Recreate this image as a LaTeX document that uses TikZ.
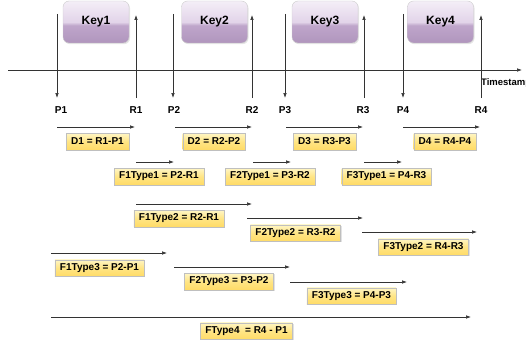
\documentclass[tikz,border=0pt]{standalone}
\usepackage{fontspec}
\setmainfont{Liberation Sans}
\usetikzlibrary{arrows.meta,shadows}
\definecolor{linec}{HTML}{333333}
\definecolor{kt}{HTML}{F4EEF7}
\definecolor{ku}{HTML}{E2D4E9}
\definecolor{km}{HTML}{BFA6CB}
\definecolor{kb}{HTML}{9E80AC}
\definecolor{yt}{HTML}{FFF6C4}
\definecolor{ym}{HTML}{FFE585}
\definecolor{yb}{HTML}{FFD148}
\pgfdeclareverticalshading{keyshade}{100bp}{color(0bp)=(kb); color(46bp)=(km); color(50bp)=(ku); color(75bp)=(kt); color(100bp)=(kt)}
\pgfdeclareverticalshading{yshade}{100bp}{color(0bp)=(yb); color(50bp)=(ym); color(75bp)=(yt); color(100bp)=(yt)}
\begin{document}
\begin{tikzpicture}[x=1pt,y=-1pt,
  arr/.style={draw=linec,line width=0.7pt,-{Latex[length=5pt,width=3.6pt]}},
  keybox/.style={rounded corners=6pt,draw=gray!40,shading=keyshade,
    minimum width=66pt,minimum height=42pt,
    font=\bfseries\fontsize{12}{14}\selectfont,
    drop shadow={shadow xshift=1pt,shadow yshift=-1.2pt,fill=gray!40}},
  fbox/.style={draw=gray!50,shading=yshade,
    minimum height=16.5pt,inner xsep=5pt,inner ysep=0pt,
    font=\bfseries\fontsize{10}{12}\selectfont,
    drop shadow={shadow xshift=1pt,shadow yshift=-1.2pt,fill=gray!45}},
  lab/.style={font=\bfseries\fontsize{10}{12}\selectfont,inner sep=0pt}]
\useasboundingbox (0,0) rectangle (526,345);

% keys
\node[keybox] (k1) at (96,22) {Key1};
\node[keybox] (k2) at (214.5,22) {Key2};
\node[keybox] (k3) at (325,22) {Key3};
\node[keybox] (k4) at (440.5,22) {Key4};

% axis
\coordinate (ax0) at (8,70);
\coordinate (ax1) at (522,70);
\draw[arr] (ax0) -- (ax1);
\node[lab,anchor=west,font=\bfseries\fontsize{9.5}{11}\selectfont] (ts) at (481,83) {Timestamp};

% vertical arrows
\foreach \n/\x in {p1/57,p2/173,p3/285,p4/403}{
  \coordinate (\n t) at (\x,14);
  \coordinate (\n b) at (\x,98);
  \draw[arr] (\n t) -- (\n b);
}
\foreach \n/\x in {r1/136,r2/252,r3/364,r4/481}{
  \coordinate (\n b) at (\x,98);
  \coordinate (\n t) at (\x,15);
  \draw[arr] (\n b) -- (\n t);
}

% labels
\node[lab] (lp1) at (61,110) {P1};
\node[lab] (lr1) at (136,110) {R1};
\node[lab] (lp2) at (174,110) {P2};
\node[lab] (lr2) at (252,110) {R2};
\node[lab] (lp3) at (285,110) {P3};
\node[lab] (lr3) at (363,110) {R3};
\node[lab] (lp4) at (403,110) {P4};
\node[lab] (lr4) at (481,110) {R4};

% horizontal arrows
\foreach \n/\xa/\xb/\y in {d1/57/135/127, d2/175/252/127, d3/286/363/127, d4/403/480/127,
    fa1/136/174/162, fa2/253/291/162, fa3/364/402/162,
    fb1/136/252/204, fb2/247/363/218, fb3/362/477/232,
    fc1/51/167/253, fc2/174/290/267, fc3/290/407/282,
    fd/51/471/317}{
  \coordinate (\n s) at (\xa,\y);
  \coordinate (\n e) at (\xb,\y);
  \draw[arr] (\n s) -- (\n e);
}

% formula boxes
\node[fbox] (bd1) at (97.5,141.5) {D1 = R1-P1};
\node[fbox] (bd2) at (214,141.5) {D2 = R2-P2};
\node[fbox] (bd3) at (324.5,141.5) {D3 = R3-P3};
\node[fbox] (bd4) at (445,141.5) {D4 = R4-P4};
\node[fbox] (ba1) at (159,176.5) {F1Type1 = P2-R1};
\node[fbox] (ba2) at (270,176.5) {F2Type1 = P3-R2};
\node[fbox] (ba3) at (386.5,176.5) {F3Type1 = P4-R3};
\node[fbox] (bb1) at (179,218.5) {F1Type2 = R2-R1};
\node[fbox] (bb2) at (295.5,233) {F2Type2 = R3-R2};
\node[fbox] (bb3) at (423.5,247) {F3Type2 = R4-R3};
\node[fbox] (bc1) at (99.5,268) {F1Type3 = P2-P1};
\node[fbox] (bc2) at (229,281.5) {F2Type3 = P3-P2};
\node[fbox] (bc3) at (351.5,296) {F3Type3 = P4-P3};
\node[fbox] (bdd) at (246.5,331) {FType4 \ = R4 - P1};
\end{tikzpicture}
\end{document}
